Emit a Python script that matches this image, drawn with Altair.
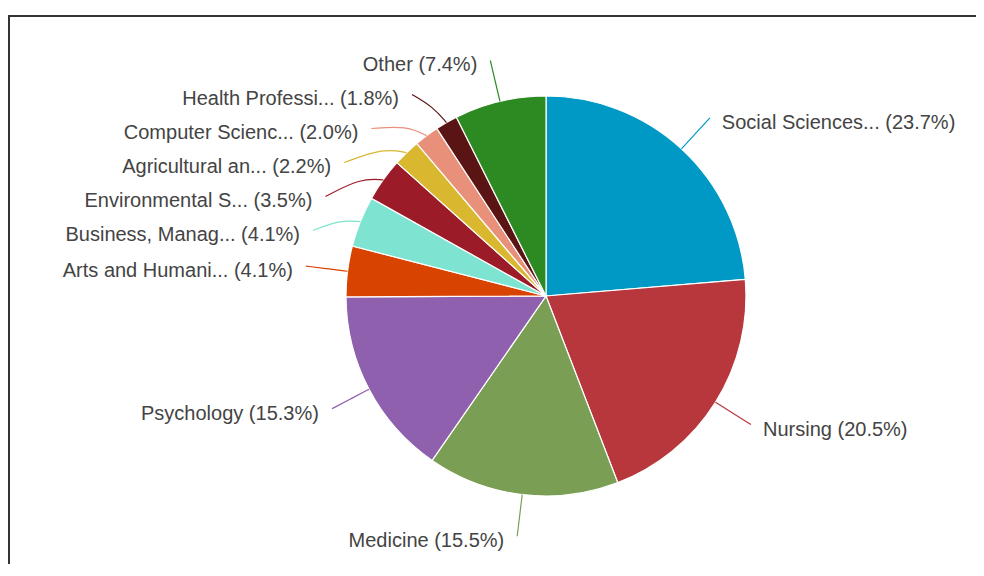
import math
import altair as alt
import pandas as pd

# ---- data ----
categories = ["Social Sciences...", "Nursing", "Medicine", "Psychology",
              "Arts and Humani...", "Business, Manag...", "Environmental S...",
              "Agricultural an...", "Computer Scienc...", "Health Professi...", "Other"]
shares = [23.7, 20.5, 15.5, 15.3, 4.1, 4.1, 3.5, 2.2, 2.0, 1.8, 7.4]
colors = ["#0099c6", "#b8373d", "#7b9e55", "#8e60ad", "#d94300", "#7ee3d0",
          "#9b1c28", "#d9b830", "#e8907a", "#5a1414", "#2d8a22"]

# ---- layout ----
W, H = 968, 556
CX, CY, R = 538, 288, 200
RL = 1.21 * R         # radius where leader lines end
GAP = 34              # min vertical spacing between labels
FONT = 20
TEXT_DY = 5

n = len(shares)
total = sum(shares)
labels = [f"{c} ({v:.1f}%)" for c, v in zip(categories, shares)]

mids = []
cum = 0.0
for v in shares:
    mids.append(2 * math.pi * (cum + v / 2) / total)
    cum += v

natural_y = [CY - RL * math.cos(a) for a in mids]
end_y = natural_y[:]
for side in (lambda a: math.sin(a) >= 0, lambda a: math.sin(a) < 0):
    idxs = sorted([i for i in range(n) if side(mids[i])], key=lambda i: natural_y[i])
    prev = None
    for i in idxs:
        y = natural_y[i]
        if prev is not None and y < prev + GAP:
            y = prev + GAP
        end_y[i] = y
        prev = y

rows_line, rows_left, rows_right = [], [], []
for i in range(n):
    a = mids[i]
    is_right = math.sin(a) >= 0
    dy = end_y[i] - CY
    dx = math.sqrt(max(RL * RL - dy * dy, 0.0))
    ex = CX + dx if is_right else CX - dx
    ey = end_y[i]
    sx, sy = CX + R * math.sin(a), CY - R * math.cos(a)
    rx, ry = CX + 1.1 * R * math.sin(a), CY - 1.1 * R * math.cos(a)
    mx, my = (rx + (sx + ex) / 2) / 2, (ry + (sy + ey) / 2) / 2
    for k, (px, py) in enumerate([(sx, sy), (mx, my), (ex, ey)]):
        rows_line.append({"cat": categories[i], "k": k, "x": px, "y": py})
    if is_right:
        rows_right.append({"cat": categories[i], "label": labels[i], "x": ex + 12, "y": ey + TEXT_DY})
    else:
        rows_left.append({"cat": categories[i], "label": labels[i], "x": ex - 13, "y": ey + TEXT_DY})

pie_df = pd.DataFrame({"cat": categories, "share": shares, "idx": list(range(n))})
line_df = pd.DataFrame(rows_line)
left_df = pd.DataFrame(rows_left)
right_df = pd.DataFrame(rows_right)

color = alt.Color("cat:N", scale=alt.Scale(domain=categories, range=colors), legend=None)
xs = alt.X("x:Q", scale=alt.Scale(domain=[0, W], range=[0, W]), axis=None)
ys = alt.Y("y:Q", scale=alt.Scale(domain=[0, H], range=[0, H]), axis=None)

pie = alt.Chart(pie_df).mark_arc(outerRadius=R, stroke="white", strokeWidth=1.2).encode(
    theta=alt.Theta("share:Q", stack=True),
    color=color,
    order=alt.Order("idx:Q"),
    x=alt.value(CX),
    y=alt.value(CY),
)

lines = alt.Chart(line_df).mark_line(strokeWidth=1.2, interpolate="basis").encode(
    x=xs, y=ys, color=color, detail="cat:N", order=alt.Order("k:Q")
)

text_left = alt.Chart(left_df).mark_text(
    align="right", baseline="middle", font="Liberation Sans", fontSize=FONT, color="#444444"
).encode(x=xs, y=ys, text="label:N")

text_right = alt.Chart(right_df).mark_text(
    align="left", baseline="middle", font="Liberation Sans", fontSize=FONT, color="#444444"
).encode(x=xs, y=ys, text="label:N")

one = pd.DataFrame({"f": [1]})
frame_top = alt.Chart(one).mark_rule(stroke="#333333", strokeWidth=2).encode(
    x=alt.value(0), x2=alt.value(W + 40), y=alt.value(8)
)
frame_left = alt.Chart(one).mark_rule(stroke="#333333", strokeWidth=2).encode(
    x=alt.value(1), y=alt.value(8), y2=alt.value(H + 40)
)

chart = alt.layer(frame_top, frame_left, pie, lines, text_left, text_right).properties(
    width=W, height=H, padding=0, autosize=alt.AutoSizeParams(type="none")
).configure_view(stroke=None)

chart.save("out.html", embed_options={"renderer": "svg", "actions": False})
